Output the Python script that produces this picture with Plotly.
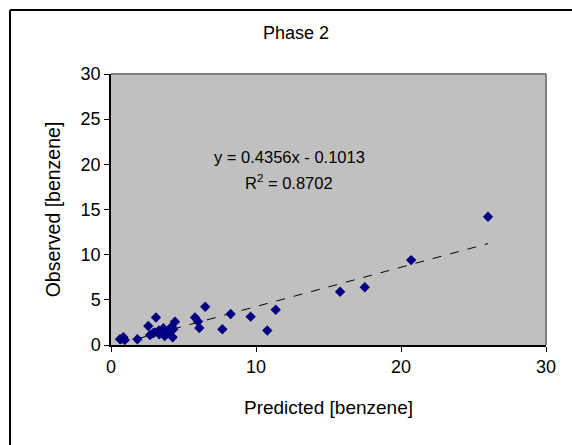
import plotly.graph_objects as go

predicted = [26.0, 20.7, 17.5, 15.8, 11.36, 10.78, 9.63, 8.25, 7.68, 6.5,
             5.79, 6.0, 6.09, 3.1, 2.57, 2.69, 3.33, 3.61, 3.0, 3.95, 4.18,
             4.41, 4.25, 1.82, 0.85, 0.62, 0.95, 3.5, 3.8, 2.9, 3.3, 4.3, 3.7]
observed = [14.2, 9.4, 6.4, 5.9, 3.9, 1.6, 3.14, 3.43, 1.75, 4.24,
            3.05, 2.6, 1.88, 3.05, 2.1, 1.11, 1.18, 1.85, 1.4, 1.48, 2.03,
            2.58, 0.85, 0.63, 0.85, 0.63, 0.55, 1.5, 1.2, 1.3, 1.6, 1.75, 1.0]

slope = 0.4356
intercept = -0.1013
fit_x = [min(predicted), max(predicted)]
fit_y = [slope * v + intercept for v in fit_x]

x_ticks = [0, 10, 20, 30]
y_ticks = [0, 5, 10, 15, 20, 25, 30]

fig = go.Figure()
fig.add_trace(go.Scatter(x=fit_x, y=fit_y, mode="lines",
                         line=dict(color="black", width=1, dash="dash"),
                         showlegend=False, hoverinfo="skip"))
fig.add_trace(go.Scatter(x=predicted, y=observed, mode="markers",
                         marker=dict(symbol="diamond", color="#000080", size=8,
                                     line=dict(width=0)),
                         showlegend=False))

font = "Arial, Liberation Sans, sans-serif"
fig.update_layout(
    width=572, height=445,
    margin=dict(l=111, r=26, t=74, b=100),
    paper_bgcolor="white", plot_bgcolor="#C0C0C0",
    font=dict(family=font, size=18, color="black"),
    title=dict(text="Phase 2", x=296 / 572, xanchor="center", xref="container",
               y=1 - 33 / 445, yanchor="middle", yref="container",
               font=dict(size=18)),
    xaxis=dict(range=[0, 30], tickvals=x_ticks, showgrid=False, zeroline=False,
               showline=True, linecolor="black", linewidth=1.5,
               ticks="outside", ticklen=5, tickcolor="black",
               tickfont=dict(size=18),
               title=dict(text="Predicted [benzene]", standoff=24,
                          font=dict(size=19))),
    yaxis=dict(range=[0, 30], tickvals=y_ticks, showgrid=False, zeroline=False,
               showline=True, linecolor="black", linewidth=1.5,
               ticks="outside", ticklen=5, tickcolor="black",
               tickfont=dict(size=18),
               title=dict(text="Observed [benzene]", standoff=15,
                          font=dict(size=19.5))),
    shapes=[
        dict(type="line", xref="paper", yref="paper", x0=0, x1=1, y0=1, y1=1,
             line=dict(color="#808080", width=2)),
        dict(type="line", xref="paper", yref="paper", x0=1, x1=1, y0=0, y1=1,
             line=dict(color="#808080", width=2)),
        dict(type="line", xref="paper", yref="paper", x0=-101 / 435, x1=1.2,
             y0=335 / 271, y1=335 / 271, line=dict(color="black", width=2)),
        dict(type="line", xref="paper", yref="paper", x0=-101 / 435, x1=-101 / 435,
             y0=-0.5, y1=335 / 271, line=dict(color="black", width=2)),
    ],
    annotations=[
        dict(text="y = 0.4356x - 0.1013", x=12.3, y=20.8, xref="x", yref="y",
             showarrow=False, font=dict(size=16.5)),
        dict(text="R<sup>2</sup> = 0.8702", x=12.3, y=18.0, xref="x", yref="y",
             showarrow=False, font=dict(size=16.5)),
    ],
)

fig.write_html("out.html", config={"displayModeBar": False},
               post_script="document.body.style.margin='0';document.body.style.padding='0';")
